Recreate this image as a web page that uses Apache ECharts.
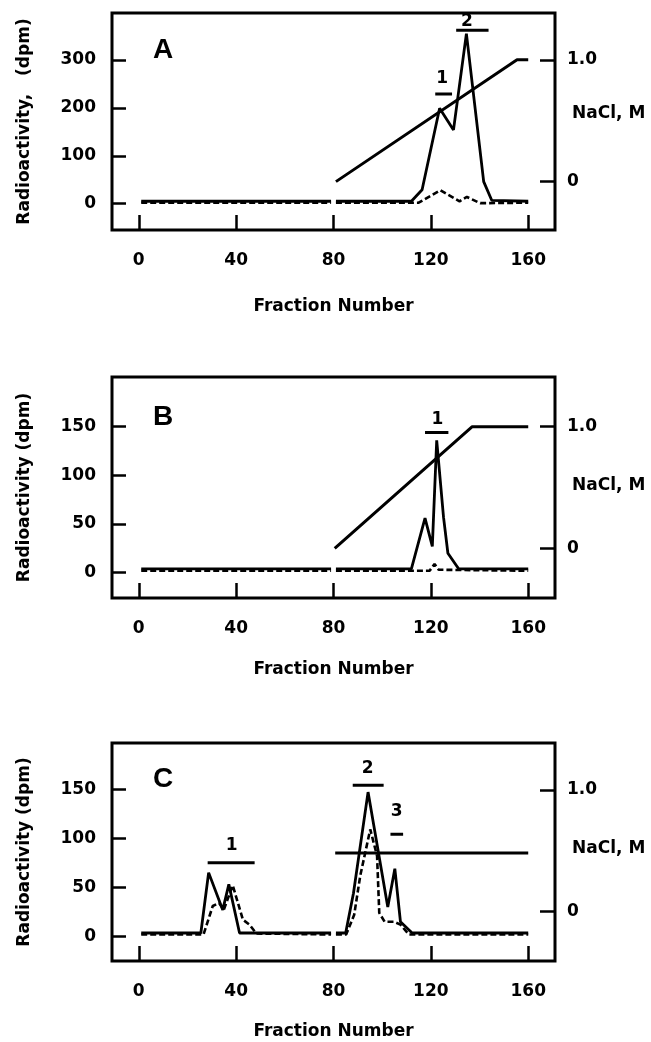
<!DOCTYPE html>
<html lang="en">
<head>
<meta charset="UTF-8">
<title>Fraction profiles</title>
<script src="https://cdn.jsdelivr.net/npm/echarts@6/dist/echarts.min.js"></script>
<style>
  html, body { margin: 0; padding: 0; background: #fff; }
  #chart { width: 651px; height: 1042px; }
</style>
</head>
<body>
<div id="chart"></div>
<script>
// tick labels
var fractionTicks = [0, 40, 80, 120, 160];
var naclTicks = [0, 1];
var radioTicksA = [0, 100, 200, 300];
var radioTicksBC = [0, 50, 100, 150];

// panel A  [fraction, dpm] / [fraction, M]
var aSolid = [[1,5],[79,5],[80,'-'],[81,5],[112,5],[116.4,29],[123.6,199],[129.3,154],[134.6,355],[141.7,46],[145,7],[160,5]];
var aDashed = [[1,2],[79,2],[80,'-'],[81,2],[115,2],[123.9,28],[131.8,5],[134.8,14],[140.3,1],[160,2]];
var aNacl = [[81,0],[155.4,1],[160,1]];
var aPoolBars = [[121.8,128.7,229],[130.4,143.7,362]];
var aPoolLabels = [[124.6,262,'1'],[134.8,380,'2']];

// panel B
var bSolid = [[1,4],[79,4],[80,'-'],[81,4],[112,4],[117.6,56],[120.6,27],[122.4,136],[125.2,57],[127,20],[131.4,4],[160,4]];
var bDashed = [[1,2],[79,2],[80,'-'],[81,2],[119.5,2],[121.5,9],[123.2,3],[160,2]];
var bNacl = [[80.5,0],[137,1],[160,1]];
var bPoolBars = [[117.6,127.2,144]];
var bPoolLabels = [[122.7,157,'1']];

// panel C
var cSolid = [[1,3.5],[25.5,3.5],[28.7,65],[34.5,27],[37,53],[41.4,3.5],[79,3.5],[80,'-'],[81,3.5],[85,3.5],[88.2,44],[94.2,147],[102.3,30],[105.2,69],[107.5,15],[112.3,3.5],[160,3.5]];
var cDashed = [[1,2],[26.6,2],[30.4,31],[33,34],[34.9,27],[38.6,52],[42.8,17],[45.5,12],[48.3,3],[79,2],[80,'-'],[81,2],[85.2,2],[88.5,22],[91,62],[95.1,109],[97.9,82],[98.8,24],[101,15],[104.8,15],[107.5,12],[111,2],[160,2]];
var cNacl = [[80.7,0.48],[160,0.48]];
var cPoolBars = [[28.3,47.6,75],[87.9,100.6,154],[103.4,108.6,104]];
var cPoolLabels = [[38.2,93,'1'],[94,171,'2'],[105.9,127,'3']];

var FONT = 'DejaVu Sans';
var chart = echarts.init(document.getElementById('chart'), null, { renderer: 'canvas' });

var panels = [
  { letter: 'A', top: 13, height: 217, ymin: -55, ymax: 398, rmin: -0.397, rmax: 1.384,
    radioTicks: radioTicksA, yName: 'Radioactivity,   (dpm)', xNameGap: 68, naclY: 115, letterY: 50,
    solid: aSolid, dashed: aDashed, nacl: aNacl, bars: aPoolBars, labels: aPoolLabels },
  { letter: 'B', top: 377, height: 221, ymin: -26, ymax: 201, rmin: -0.409, rmax: 1.409,
    radioTicks: radioTicksBC, yName: 'Radioactivity (dpm)', xNameGap: 63, naclY: 487, letterY: 417,
    solid: bSolid, dashed: bDashed, nacl: bNacl, bars: bPoolBars, labels: bPoolLabels },
  { letter: 'C', top: 743, height: 218, ymin: -25, ymax: 197, rmin: -0.41, rmax: 1.388,
    radioTicks: radioTicksBC, yName: 'Radioactivity (dpm)', xNameGap: 62, naclY: 850, letterY: 779,
    solid: cSolid, dashed: cDashed, nacl: cNacl, bars: cPoolBars, labels: cPoolLabels }
];

var grids = [], xAxes = [], yAxes = [], series = [], graphics = [];
var tickStyle = { color: '#000', width: 2.5 };
var labelStyle = { color: '#000', fontFamily: FONT, fontWeight: 'bold', fontSize: 17 };

panels.forEach(function (p, i) {
  grids.push({ left: 112, right: 96, top: p.top, height: p.height, show: true,
    borderColor: '#000', borderWidth: 3, backgroundColor: 'transparent' });

  xAxes.push({
    type: 'value', gridIndex: i, min: -11, max: 171, position: 'bottom',
    splitLine: { show: false }, axisLine: { show: false, onZero: false },
    axisTick: { show: true, inside: true, length: 15, lineStyle: tickStyle, customValues: fractionTicks },
    axisLabel: Object.assign({ margin: 22, customValues: fractionTicks }, labelStyle),
    name: 'Fraction Number', nameLocation: 'middle', nameGap: p.xNameGap,
    nameTextStyle: labelStyle
  });

  yAxes.push({
    type: 'value', gridIndex: i, min: p.ymin, max: p.ymax, position: 'left',
    splitLine: { show: false }, axisLine: { show: false, onZero: false },
    axisTick: { show: true, inside: true, length: 14, lineStyle: tickStyle, customValues: p.radioTicks },
    axisLabel: Object.assign({ margin: 16, customValues: p.radioTicks }, labelStyle),
    name: p.yName, nameLocation: 'middle', nameGap: 79,
    nameTextStyle: labelStyle
  });

  yAxes.push({
    type: 'value', gridIndex: i, min: p.rmin, max: p.rmax, position: 'right',
    splitLine: { show: false }, axisLine: { show: false, onZero: false },
    axisTick: { show: true, inside: true, length: 15, lineStyle: tickStyle, customValues: naclTicks },
    axisLabel: Object.assign({ margin: 12, customValues: naclTicks,
      formatter: function (v) { return v === 0 ? '0' : v.toFixed(1); } }, labelStyle)
  });

  var ly = i * 2, ry = i * 2 + 1;

  series.push({ type: 'line', xAxisIndex: i, yAxisIndex: ly, data: p.dashed, showSymbol: false,
    lineStyle: { color: '#000', width: 2.6, type: [6, 3] }, z: 3 });
  series.push({ type: 'line', xAxisIndex: i, yAxisIndex: ly, data: p.solid, showSymbol: false,
    lineStyle: { color: '#000', width: 2.8 }, z: 4 });
  series.push({ type: 'line', xAxisIndex: i, yAxisIndex: ry, data: p.nacl, showSymbol: false,
    lineStyle: { color: '#000', width: 3 }, z: 4 });

  p.bars.forEach(function (b) {
    series.push({ type: 'line', xAxisIndex: i, yAxisIndex: ly, data: [[b[0], b[2]], [b[1], b[2]]],
      showSymbol: false, lineStyle: { color: '#000', width: 3 }, z: 5 });
  });
  series.push({ type: 'scatter', xAxisIndex: i, yAxisIndex: ly, data: p.labels, symbolSize: 1,
    itemStyle: { color: '#fff', opacity: 0 }, z: 6,
    label: Object.assign({ show: true, position: 'inside', textBorderWidth: 0, opacity: 1,
      formatter: function (d) { return d.data[2]; } }, labelStyle) });

  graphics.push({ type: 'text', left: 153, top: p.letterY - 14,
    style: { text: p.letter, fill: '#000', font: 'bold 28px "Liberation Sans"' } });
  graphics.push({ type: 'text', left: 572, top: p.naclY - 10,
    style: { text: 'NaCl, M', fill: '#000', font: 'bold 17px "DejaVu Sans"' } });
});

chart.setOption({
  backgroundColor: '#fff',
  animation: false,
  grid: grids,
  xAxis: xAxes,
  yAxis: yAxes,
  series: series,
  graphic: graphics
});
</script>
</body>
</html>
